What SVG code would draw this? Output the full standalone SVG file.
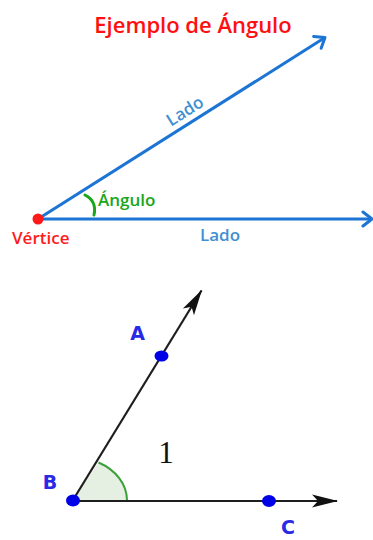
<svg xmlns="http://www.w3.org/2000/svg" width="373" height="540" viewBox="0 0 373 540">
<style>
.side{stroke:#1c74d4;stroke-width:3;fill:none}
.ray{stroke:#1e1e1e;stroke-width:2.2;fill:none}
.pt{fill:#0000e6}
.lbl{font-family:"DejaVu Sans",sans-serif;font-weight:bold;font-size:19px;fill:#2a2ae6}
.os{font-family:"Open Sans","Noto Sans",sans-serif;font-weight:600}
</style>
<defs>
<marker id="chev" markerUnits="userSpaceOnUse" markerWidth="30" markerHeight="30" viewBox="-15 -15 30 30" refX="0" refY="0" orient="auto" overflow="visible">
<path d="M-9,-7 L0,0 L-9,7" fill="none" stroke="#1c74d4" stroke-width="3" stroke-linecap="round" stroke-linejoin="round"/>
</marker>
<marker id="tri" markerUnits="userSpaceOnUse" markerWidth="40" markerHeight="20" viewBox="-30 -10 40 20" refX="0" refY="0" orient="auto" overflow="visible">
<path d="M1,0 L-25,-6.5 L-19,0 L-25,6.5 Z" fill="#111"/>
</marker>
</defs>
<rect width="373" height="540" fill="#fff"/>
<text id="title" class="os" x="193" y="33" font-size="22" fill="#ff1010" text-anchor="middle">Ejemplo de Ángulo</text>
<g id="connectors">
<line class="side" x1="38" y1="219" x2="325" y2="37.5" marker-end="url(#chev)"/>
<line class="side" x1="38" y1="219" x2="372" y2="219" marker-end="url(#chev)"/>
<path d="M73,500 L98.5,462.5 A54,43 0 0 1 127,500 Z" fill="#e5efe2"/>
<path d="M98.5,462.5 A54,43 0 0 1 127,500" fill="none" stroke="#3aa03a" stroke-width="2"/>
<line class="ray" x1="73" y1="500" x2="201.5" y2="290.5" marker-end="url(#tri)"/>
<line class="ray" x1="73" y1="501" x2="337" y2="501" marker-end="url(#tri)"/>
</g>
<g id="vertex">
<circle cx="38" cy="219" r="5.5" fill="#ff1a1a"/>
<text class="os" x="12" y="244" font-size="17" fill="#ff1a1a">Vértice</text>
</g>
<g id="lado1">
<text class="os" x="0" y="0" font-size="17" fill="#3f8fd2" text-anchor="middle" transform="translate(188,116) rotate(-32.3)">Lado</text>
</g>
<g id="lado2">
<text class="os" x="220" y="241" font-size="17" fill="#3f8fd2" text-anchor="middle">Lado</text>
</g>
<g id="angulo">
<path d="M85,195 Q97,201 94,215" fill="none" stroke="#1aa61a" stroke-width="3" stroke-linecap="round"/>
<text class="os" x="98" y="206" font-size="17" fill="#1aa61a">Ángulo</text>
</g>
<g id="pointA">
<ellipse class="pt" cx="161.5" cy="356" rx="7" ry="5.5"/>
<text class="lbl" x="137.5" y="340" text-anchor="middle">A</text>
</g>
<g id="pointB">
<ellipse class="pt" cx="73" cy="500.5" rx="7" ry="6"/>
<text class="lbl" x="50" y="489" text-anchor="middle">B</text>
</g>
<g id="pointC">
<ellipse class="pt" cx="269" cy="501" rx="7" ry="6"/>
<text class="lbl" x="288" y="534" font-size="18" text-anchor="middle">C</text>
</g>
<g id="label1">
<text x="166" y="463" font-family="Liberation Serif,serif" font-size="31" fill="#111" text-anchor="middle">1</text>
</g>
</svg>
